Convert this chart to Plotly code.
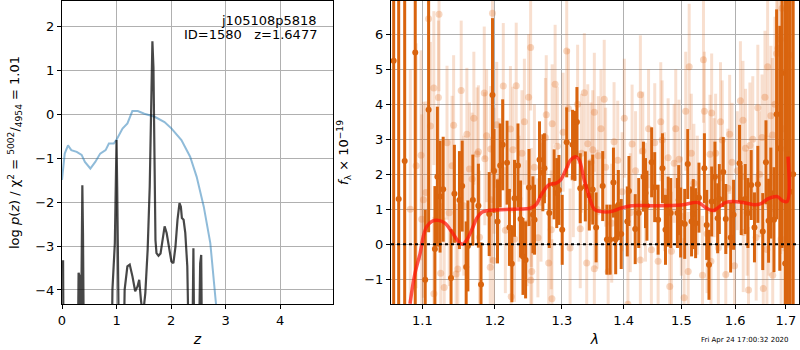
import plotly.graph_objects as go

# ---------------- left panel: redshift fit ----------------
z_chi2 = [0.0, 0.05, 0.11, 0.17, 0.27, 0.36, 0.42, 0.52, 0.61, 0.70, 0.80, 0.86, 0.95, 1.01,
          1.11, 1.20, 1.29, 1.39, 1.51, 1.70, 1.88, 2.01, 2.19, 2.35, 2.47, 2.60, 2.72, 2.81, 2.86, 2.95]
chi2_curve = [-1.49, -0.89, -0.70, -0.81, -0.85, -0.92, -1.08, -1.23, -1.08, -0.89, -0.81, -0.66, -0.66, -0.55,
              -0.32, -0.20, 0.08, 0.08, 0.02, -0.05, -0.17, -0.32, -0.58, -0.96, -1.42, -2.10, -2.93, -3.99, -4.6, -6.0]

z_pz = [0.0, 0.02, 0.03, 0.286, 0.304, 0.323, 0.342, 0.36, 0.373, 0.385, 0.404, 0.907, 0.925, 0.969,
        0.988, 1.0, 1.012, 1.031, 1.05, 1.124, 1.149, 1.199, 1.242, 1.292, 1.342, 1.385, 1.416, 1.447,
        1.484, 1.528, 1.571, 1.609, 1.634, 1.658, 1.677, 1.696, 1.714, 1.733, 1.770, 1.807, 1.845, 1.882,
        1.919, 1.963, 2.006, 2.043, 2.081, 2.118, 2.155, 2.18, 2.199, 2.23, 2.261, 2.298, 2.335, 2.385,
        2.41, 2.429, 2.503, 2.534, 2.553, 2.571, 4.97]
logpz = [-3.35, -3.35, -6.0, -6.0, -3.61, -3.69, -6.0, -2.70, -1.61, -2.70, -6.0, -6.0, -3.99, -2.93,
         -0.66, -0.58, -1.64, -3.46, -6.0, -6.0, -3.99, -3.46, -3.42, -3.69, -4.03, -3.92, -3.77, -4.22,
         -4.6, -4.07, -3.08, -1.64, 0.33, 1.67, 1.08, -1.19, -2.86, -3.16, -3.22, -3.17, -2.86, -2.55,
         -2.70, -3.08, -3.35, -3.39, -3.01, -2.40, -2.02, -2.10, -2.36, -2.40, -2.70, -3.46, -6.0, -6.0,
         -3.05, -6.0, -6.0, -3.39, -3.20, -6.0, -6.0]

z_ticks = [0, 1, 2, 3, 4]
lp_ticks = [-4, -3, -2, -1, 0, 1, 2]

# ---------------- right panel: spectrum ----------------
wave_dark = [1.0629, 1.0693, 1.0770, 1.0907, 1.1038, 1.1083, 1.1167, 1.1200, 1.1236, 1.1278, 1.1385,
             1.1431, 1.1500, 1.1538, 1.1593, 1.1617, 1.1686, 1.1764, 1.1801, 1.1917, 1.1964, 1.1986,
             1.2036, 1.2075, 1.2111, 1.2175, 1.2209, 1.2245, 1.2284, 1.2335, 1.2373, 1.2409, 1.2448,
             1.2499, 1.2558, 1.2582, 1.2657, 1.2708, 1.2732, 1.2806, 1.2881, 1.2921, 1.2955, 1.3006,
             1.3076, 1.3168, 1.3205, 1.3237, 1.3290, 1.3371, 1.3435, 1.3490, 1.3545, 1.3652, 1.3721,
             1.3774, 1.3829, 1.3866, 1.3910, 1.3958, 1.4060, 1.4088, 1.4194, 1.4254, 1.4335, 1.4370,
             1.4395, 1.4476, 1.4529, 1.4589, 1.4665, 1.4718, 1.4765, 1.4811, 1.4930, 1.4953, 1.4988,
             1.5061, 1.5116, 1.5185, 1.5216, 1.5259, 1.5320, 1.5420, 1.5463, 1.5505, 1.5555, 1.5616,
             1.5667, 1.5698, 1.5772, 1.5820, 1.5913, 1.5968, 1.6083, 1.6116, 1.6193, 1.6245, 1.6309,
             1.6373, 1.6439, 1.6536, 1.6600, 1.6652, 1.6697, 1.6760, 1.6813, 1.6877, 1.6923, 1.6987,
             1.7033, 1.7088, 1.7150]
flux_dark = [5.24, 1.29, 2.38, 5.48, -1.02, 3.84, -0.14, 1.93, 1.36, 1.57, -0.97,
             1.44, 1.26, 1.66, -0.65, -0.05, 1.26, 1.10, -1.15, 0.86, 4.26, 2.09,
             0.65, 2.25, 2.84, 2.33, 0.48, -0.56, 1.31, 2.25, 0.72, -0.35, -0.45,
             1.62, 0.84, 0.70, 2.41, 2.04, 2.17, 0.89, 1.71, 1.46, 1.55, 0.41,
             2.91, 2.84, 2.81, 3.49, 1.60, 1.65, 1.39, 1.56, 0.48, 1.66, 0.13,
             0.13, 1.76, 0.14, 1.12, 0.29, 0.65, 1.52, 0.43, 0.89, 1.93, 1.46,
             1.10, 2.34, 1.63, 0.70, 2.17, 0.41, 0.93, 0.89, 0.89, 1.26, 0.62,
             0.58, 2.29, 0.65, 0.86, 0.60, 1.33, 2.17, 0.55, -0.59, 1.22, 1.93,
             0.74, 1.29, 2.06, 0.72, 0.19, 0.84, 2.31, 1.26, 1.29, 0.89, 1.69,
             0.48, 1.71, 0.36, 2.34, 0.67, 1.46, 0.70, 3.71, 2.74, 4.89, -0.55,
             2.57, 1.5, 2.0]
err_dark = [9.0, 8.0, 7.0, 8.0, 2.0, 3.5, 1.8, 2.0, 1.6, 1.5, 1.4,
            1.4, 1.4, 1.3, 1.3, 1.3, 1.3, 1.2, 1.2, 1.2, 2.2, 1.2,
            1.2, 1.2, 1.3, 1.2, 1.1, 1.1, 1.1, 1.2, 1.1, 1.1, 1.1,
            1.1, 1.1, 1.0, 1.1, 1.1, 1.0, 1.0, 1.0, 1.0, 1.0, 1.0,
            1.0, 1.0, 1.0, 1.0, 1.0, 1.0, 1.0, 1.0, 1.0, 1.0, 1.0,
            1.0, 1.0, 1.0, 1.0, 1.0, 1.0, 1.0, 1.0, 1.0, 1.0, 1.0,
            1.0, 1.0, 1.0, 1.0, 1.0, 1.0, 1.0, 1.0, 1.0, 1.0, 1.0,
            1.0, 1.0, 1.0, 1.0, 1.0, 1.0, 1.0, 1.0, 1.0, 1.0, 1.0,
            1.0, 1.0, 1.0, 1.0, 1.0, 1.0, 1.1, 1.0, 1.0, 1.0, 1.0,
            1.0, 1.1, 1.1, 1.2, 1.2, 1.3, 1.5, 3.0, 3.5, 5.0, 8.0,
            9.0, 10.0, 10.0]

wave_light = [1.0843, 1.0919, 1.0983, 1.0992, 1.1014, 1.1047, 1.1083, 1.1107, 1.1153, 1.1153, 1.1214,
              1.1222, 1.1245, 1.1292, 1.1399, 1.1454, 1.1478, 1.1524, 1.1603, 1.1639, 1.1676, 1.1746,
              1.1764, 1.1847, 1.1855, 1.1932, 1.1940, 1.1948, 1.1964, 1.1975, 1.1986, 1.2025, 1.2120,
              1.2224, 1.2235, 1.2284, 1.2309, 1.2394, 1.2493, 1.2523, 1.2526, 1.2533, 1.2540, 1.2633,
              1.2747, 1.2797, 1.2836, 1.2847, 1.2851, 1.2896, 1.3076, 1.3103, 1.3129, 1.3248, 1.3290,
              1.3355, 1.3393, 1.3410, 1.3463, 1.3490, 1.3516, 1.3516, 1.3581, 1.3624, 1.3677, 1.3742,
              1.3839, 1.3974, 1.4071, 1.4141, 1.4282, 1.4282, 1.4324, 1.4423, 1.4471, 1.4589, 1.4635,
              1.4659, 1.4765, 1.4794, 1.4824, 1.4871, 1.4959, 1.5050, 1.5079, 1.5124, 1.5142, 1.5227,
              1.5385, 1.5403, 1.5420, 1.5524, 1.5542, 1.5555, 1.5629, 1.5680, 1.5753, 1.5820, 1.5894,
              1.5939, 1.5987, 1.6149, 1.6155, 1.6199, 1.6257, 1.6284, 1.6406, 1.6439, 1.6522, 1.6547,
              1.6619, 1.6633, 1.6697, 1.6729, 1.6735, 1.6813, 1.6838, 1.6890, 1.6895, 1.6904, 1.6923,
              1.7020, 1.7040,
              1.1330, 1.1360, 1.1420, 1.1560, 1.1700, 1.1780, 1.1880, 1.2060, 1.2150, 1.2260, 1.2350,
              1.2430, 1.2470, 1.2580, 1.2680, 1.2760, 1.2930, 1.3020, 1.3180, 1.3310, 1.3560, 1.3700,
              1.3800, 1.3900, 1.4010, 1.4110, 1.4200, 1.4370, 1.4530, 1.4700, 1.4900, 1.5000, 1.5180,
              1.5290, 1.5470, 1.5600, 1.5720, 1.5860, 1.6040, 1.6100, 1.6230, 1.6340, 1.6470, 1.6580,
              1.6660, 1.6780, 1.6960, 1.7080]
flux_light = [1.0, 2.24, 2.54, 0.71, 1.27, 1.48, 6.44, 3.38, 4.46, -1.42, 4.19,
              6.57, -0.83, -1.24, 2.24, -0.85, -0.71, 4.39, 3.14, 2.15, 1.86, 2.58,
              2.64, 4.32, 2.44, -0.66, 2.72, 1.27, 6.60, -0.47, 2.10, 3.41, 4.52,
              3.29, -1.50, 0.15, 4.53, 2.60, 4.20, 5.62, -1.03, 1.05, -0.78, 0.18,
              3.05, -0.54, 0.41, -1.56, 3.44, 4.57, 5.52, 3.88, -0.11, 4.00, 0.44,
              4.33, -0.54, 2.87, 2.35, 2.70, 3.77, -0.70, 2.53, 3.30, 4.14, -0.79,
              2.93, 1.50, -1.72, 2.86, 4.27, -0.45, 2.66, 3.30, -0.16, -0.49, 3.50,
              2.98, 2.47, -1.21, -0.20, 2.31, 2.43, -1.53, 3.80, -0.78, 5.07, 1.74,
              -0.89, 5.27, 3.80, 2.57, -0.49, 3.75, 2.60, -0.10, 2.98, -0.87, 3.14,
              2.34, -0.62, 3.54, 0.33, 2.74, -1.31, 2.82, 0.19, 3.90, 3.05, -1.27,
              -0.15, 5.07, 3.67, 3.12, -0.89, 5.45, 5.60, 5.86, 2.72, 0.15, 6.74,
              6.72, -0.79,
              2.9, 0.9, 3.4, 1.1, 3.6, 0.2, 3.1, 1.8, 0.4, 2.7, 1.3,
              3.5, 0.6, 2.2, 1.2, 3.7, 2.8, 3.2, 1.9, 2.6, 1.0, 2.2,
              0.6, 2.4, 3.6, 0.9, 2.1, 1.2, 2.9, 1.5, 3.3, 0.8, 2.6,
              1.4, 0.3, 1.9, 3.5, 1.6, 2.1, 4.1, 0.9, 3.0, 2.0, 4.2,
              1.1, 4.0, 3.3, 5.4]
err_light = [4.0, 3.5, 3.0, 3.0, 2.8, 2.6, 2.6, 2.4, 2.2, 2.2, 2.2,
             2.2, 2.0, 2.0, 2.0, 2.0, 2.0, 2.0, 1.9, 1.9, 1.9, 1.9,
             1.9, 1.9, 1.9, 1.8, 1.8, 1.8, 2.2, 1.8, 1.8, 1.8, 1.8,
             1.8, 1.8, 1.8, 1.8, 1.8, 1.8, 1.8, 1.7, 1.7, 1.7, 1.7,
             1.7, 1.7, 1.7, 1.7, 1.7, 1.7, 1.7, 1.7, 1.7, 1.7, 1.7,
             1.7, 1.7, 1.7, 1.7, 1.7, 1.7, 1.7, 1.7, 1.7, 1.7, 1.7,
             1.7, 1.7, 1.7, 1.7, 1.7, 1.7, 1.7, 1.7, 1.7, 1.7, 1.7,
             1.7, 1.7, 1.7, 1.7, 1.7, 1.7, 1.7, 1.7, 1.7, 1.8, 1.7,
             1.7, 1.8, 1.7, 1.7, 1.7, 1.7, 1.7, 1.7, 1.7, 1.7, 1.7,
             1.7, 1.7, 1.7, 1.7, 1.7, 1.8, 1.8, 1.8, 1.8, 1.8, 1.9,
             1.9, 2.0, 2.0, 2.2, 2.2, 2.6, 2.8, 3.0, 3.0, 3.2, 4.0,
             5.0, 5.0,
             2.2, 2.1, 2.0, 2.0, 1.9, 1.9, 1.9, 1.8, 1.8, 1.8, 1.8,
             1.8, 1.8, 1.8, 1.7, 1.7, 1.7, 1.7, 1.7, 1.7, 1.7, 1.7,
             1.7, 1.7, 1.7, 1.7, 1.7, 1.7, 1.7, 1.7, 1.7, 1.7, 1.7,
             1.7, 1.7, 1.7, 1.7, 1.7, 1.7, 1.7, 1.8, 1.8, 1.8, 1.9,
             2.0, 2.5, 3.5, 5.0]

wave_model = [1.0839, 1.0904, 1.0971, 1.1013, 1.1058, 1.1124, 1.1212, 1.1302, 1.1393, 1.1484, 1.1545,
              1.1601, 1.1671, 1.1742, 1.1813, 1.1908, 1.2029, 1.2273, 1.2524, 1.2599, 1.2700, 1.2801,
              1.2905, 1.2983, 1.3061, 1.3140, 1.3220, 1.3273, 1.3353, 1.3434, 1.3515, 1.3624, 1.3789,
              1.3955, 1.4124, 1.4468, 1.5003, 1.5304, 1.5457, 1.5582, 1.5708, 1.5836, 1.6126, 1.6356,
              1.6488, 1.6657, 1.6829, 1.6933, 1.7025, 1.7045]
flux_model = [-1.70, -0.83, -0.26, 0.22, 0.50, 0.65, 0.68, 0.60, 0.36, 0.08, 0.0,
              0.12, 0.41, 0.74, 0.91, 0.96, 0.98, 1.00, 1.03, 1.12, 1.46, 1.70,
              1.74, 1.84, 2.12, 2.41, 2.50, 2.41, 1.84, 1.36, 1.00, 0.93, 0.93,
              1.03, 1.10, 1.10, 1.12, 1.19, 1.03, 0.96, 1.08, 1.20, 1.20, 1.13,
              1.15, 1.31, 1.36, 1.24, 1.22, 2.50]

lam_ticks = [1.1, 1.2, 1.3, 1.4, 1.5, 1.6, 1.7]
f_ticks = [-1, 0, 1, 2, 3, 4, 5, 6]

title_obj = "j105108p5818"
title_id = "ID=1580   z=1.6477"
stamp = "Fri Apr 24 17:00:32 2020"

# ---------------- figure ----------------
FONT = "DejaVu Sans"
DARK = "rgb(217,100,14)"

fig = go.Figure()

fig.add_trace(go.Scatter(x=z_chi2, y=chi2_curve, mode="lines",
                         line=dict(color="rgba(31,119,180,0.5)", width=2),
                         xaxis="x", yaxis="y", showlegend=False))
fig.add_trace(go.Scatter(x=z_pz, y=logpz, mode="lines",
                         line=dict(color="rgba(0,0,0,0.72)", width=2.2),
                         xaxis="x", yaxis="y", showlegend=False))

fig.add_trace(go.Scatter(x=wave_light, y=flux_light, mode="markers",
                         marker=dict(color="rgba(225,110,35,0.28)", size=7),
                         error_y=dict(type="data", array=err_light, visible=True, width=0,
                                      thickness=3, color="rgba(225,110,35,0.22)"),
                         xaxis="x2", yaxis="y2", showlegend=False))
fig.add_trace(go.Scatter(x=wave_dark, y=flux_dark, mode="markers",
                         marker=dict(color=DARK, size=6),
                         error_y=dict(type="data", array=err_dark, visible=True, width=0,
                                      thickness=3, color=DARK),
                         xaxis="x2", yaxis="y2", showlegend=False))
fig.add_trace(go.Scatter(x=wave_model, y=flux_model, mode="lines",
                         line=dict(color="rgba(255,20,10,0.72)", width=3.5, shape="spline"),
                         xaxis="x2", yaxis="y2", showlegend=False))

fig.add_shape(type="line", xref="x2 domain", yref="y2", x0=0, x1=1, y0=0, y1=0,
              line=dict(color="black", width=2, dash="dot"))

axis_common = dict(showline=True, mirror=True, linecolor="black", linewidth=1,
                   showgrid=True, gridcolor="#b0b0b0", gridwidth=1, zeroline=False,
                   ticks="outside", ticklen=4, tickcolor="black",
                   tickfont=dict(family=FONT, size=13, color="black"))

def fmt(v):
    s = f"{v:g}"
    return s.replace("-", "\u2212")

fig.update_layout(
    width=800, height=350,
    margin=dict(l=62, r=1, t=1, b=46, autoexpand=False),
    paper_bgcolor="white", plot_bgcolor="white",
    font=dict(family=FONT, size=13, color="black"),
    xaxis=dict(domain=[0, 0.3677], range=[0, 4.97], tickvals=z_ticks,
               ticktext=[fmt(v) for v in z_ticks],
               title=dict(text="<i>z</i>", font=dict(family=FONT, size=14), standoff=7),
               anchor="y", automargin=False, **axis_common),
    yaxis=dict(domain=[0, 1], range=[-4.32, 2.59], tickvals=lp_ticks,
               ticktext=[fmt(v) for v in lp_ticks],
               title=dict(text="log <i>p</i>(<i>z</i>) / χ<sup>2</sup> = <sup>5002</sup>/<sub>4954</sub> = 1.01",
                          font=dict(family=FONT, size=13), standoff=12),
               anchor="x", automargin=False, **axis_common),
    xaxis2=dict(domain=[0.4464, 1], type="log", range=[0.02510, 0.23729], tickvals=lam_ticks,
                ticktext=[fmt(v) for v in lam_ticks], layer="above traces",
                title=dict(text="<i>λ</i>", font=dict(family=FONT, size=14), standoff=7),
                anchor="y2", automargin=False, **axis_common),
    yaxis2=dict(domain=[0, 1], range=[-1.71, 6.95], tickvals=f_ticks,
                ticktext=[fmt(v) for v in f_ticks], layer="above traces",
                title=dict(text="<i>f</i><sub>λ</sub> × 10<sup>−19</sup>",
                           font=dict(family=FONT, size=13), standoff=12),
                anchor="x2", automargin=False, **axis_common),
    annotations=[
        dict(text=title_obj, xref="paper", yref="paper", x=0.3487, y=0.937,
             xanchor="right", yanchor="middle", showarrow=False,
             font=dict(family=FONT, size=13, color="black")),
        dict(text=title_id, xref="paper", yref="paper", x=0.3487, y=0.888,
             xanchor="right", yanchor="middle", showarrow=False,
             font=dict(family=FONT, size=13, color="black")),
        dict(text=stamp, xref="paper", yref="paper", x=0.9267, y=-0.119,
             xanchor="center", yanchor="middle", showarrow=False,
             font=dict(family=FONT, size=7, color="black")),
    ],
)

fig.write_html("out.html", config={"displayModeBar": False},
               post_script="document.body.style.margin='0';document.body.style.padding='0';")
